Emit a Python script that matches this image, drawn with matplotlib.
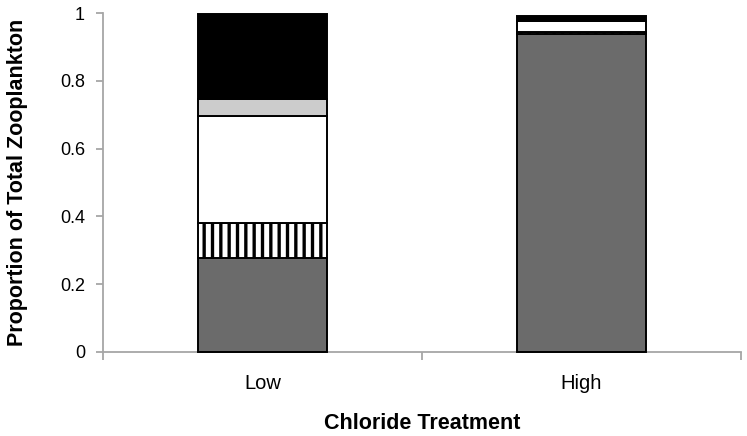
import numpy as np
import matplotlib
matplotlib.use("Agg")
import matplotlib.pyplot as plt

plt.rcParams['font.family'] = ['Liberation Sans', 'DejaVu Sans']
plt.rcParams['hatch.linewidth'] = 2.4

# Data (proportion of total zooplankton)
treatments = ["Low", "High"]
gray_part = [0.278, 0.938]
striped_part = [0.102, 0.007]
white_part = [0.317, 0.031]
lightgray_part = [0.050, 0.0]
black_part = [0.251, 0.015]

segments = [
    (gray_part, "#6b6b6b", None),
    (striped_part, "white", "||"),
    (white_part, "white", None),
    (lightgray_part, "#cccccc", None),
    (black_part, "black", None),
]

fig = plt.figure(figsize=(7.47, 4.36), dpi=100)
ax = fig.add_axes([0.138, 0.193, 0.854, 0.777])

x = np.arange(len(treatments))
bottom = np.zeros(len(treatments))
for vals, color, hatch in segments:
    vals = np.array(vals)
    mask = vals > 0
    ax.bar(x[mask], vals[mask], width=0.405, bottom=bottom[mask], color=color,
           edgecolor="black", linewidth=1.4, hatch=hatch, zorder=3, clip_on=False)
    bottom += vals

ax.set_xlim(-0.5, 1.5)
ax.set_ylim(0, 1)
ax.set_yticks([0, 0.2, 0.4, 0.6, 0.8, 1])
ax.set_yticklabels(["0", "0.2", "0.4", "0.6", "0.8", "1"])
ax.set_xticks(x)
ax.set_xticklabels(treatments)
ax.set_xticks([-0.5, 0.5, 1.5], minor=True)

for s in ["top", "right"]:
    ax.spines[s].set_visible(False)
for s in ["left", "bottom"]:
    ax.spines[s].set_color("#a6a6a6")
    ax.spines[s].set_linewidth(1.3)

ax.tick_params(axis="y", length=5, width=1.3, color="#a6a6a6", labelsize=13, pad=8)
ax.tick_params(axis="x", which="major", length=0, labelsize=14.5, pad=16)
ax.tick_params(axis="x", which="minor", length=6, width=1.3, color="#a6a6a6")

ax.set_xlabel("Chloride Treatment", fontsize=15.5, fontweight="bold")
ax.set_ylabel("Proportion of Total Zooplankton", fontsize=15.5, fontweight="bold")
ax.xaxis.set_label_coords(0.5, -0.180)
ax.yaxis.set_label_coords(-0.117, 0.5)

fig.savefig("out.png", dpi=100)
